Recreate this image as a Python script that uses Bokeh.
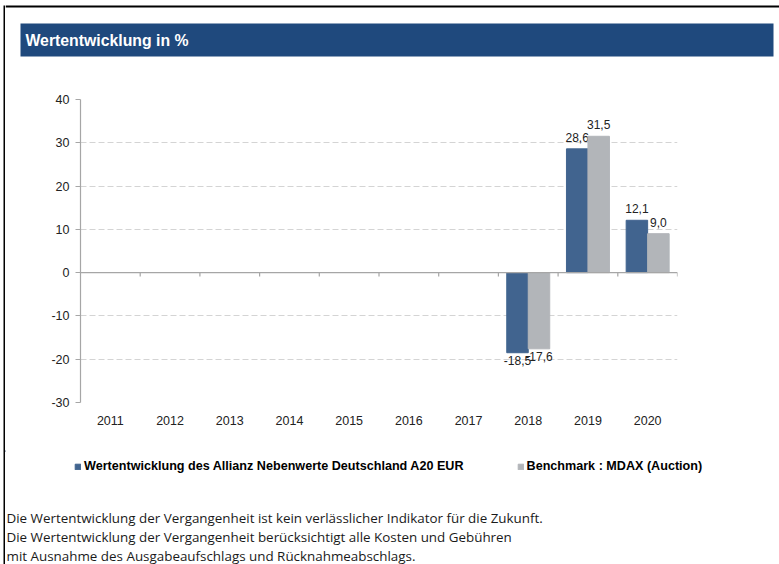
from bokeh.plotting import figure
from bokeh.layouts import row, column
from bokeh.models import (Range1d, FixedTicker, BoxAnnotation, Label, Span,
                          Legend, LegendItem, ColumnDataSource)
from bokeh.core.properties import value
from bokeh.embed import file_html
from bokeh.resources import INLINE

# ---- data ----
years = ["2011", "2012", "2013", "2014", "2015", "2016", "2017", "2018", "2019", "2020"]
fund = [None, None, None, None, None, None, None, -18.5, 28.6, 12.1]
bench = [None, None, None, None, None, None, None, -17.6, 31.5, 9.0]
y_ticks = [-30, -20, -10, 0, 10, 20, 30, 40]
title_text = "Wertentwicklung in %"
fund_name = "Wertentwicklung des Allianz Nebenwerte Deutschland A20 EUR"
bench_name = "Benchmark : MDAX (Auction)"
footer_lines = [
    "Die Wertentwicklung der Vergangenheit ist kein verlässlicher Indikator für die Zukunft.",
    "Die Wertentwicklung der Vergangenheit berücksichtigt alle Kosten und Gebühren",
    "mit Ausnahme des Ausgabeaufschlags und Rücknahmeabschlags.",
]

FONT = "Liberation Sans"
BLUE = "#41648F"
GRAY = "#B2B5B9"
AXIS = "#A6A6A6"
BAR_W = 0.36
TOTAL_W, TOTAL_H = 779, 564
STRIP_W = 5
W = TOTAL_W - STRIP_W


def blank(w, h):
    f = figure(width=w, height=h, output_backend="svg", toolbar_location=None,
               x_range=Range1d(0, w), y_range=Range1d(h, 0), min_border=0,
               x_axis_location=None, y_axis_location=None, frame_align=False)
    f.grid.visible = False
    f.outline_line_color = None
    f.background_fill_color = "white"
    f.border_fill_color = "white"
    return f


# ---- left border strip ----
strip = blank(STRIP_W, TOTAL_H)
strip.add_layout(BoxAnnotation(left=3, right=5, top=5, bottom=TOTAL_H,
                               fill_color="black", fill_alpha=1, line_color=None))

# ---- header ----
HEAD_H = 60
head = blank(W, HEAD_H)
head.add_layout(BoxAnnotation(left=0, right=W, top=5, bottom=7,
                              fill_color="black", fill_alpha=1, line_color=None))
head.add_layout(BoxAnnotation(left=15, right=768, top=23, bottom=56,
                              fill_color="#1F497D", fill_alpha=1, line_color=None))
head.add_layout(Label(x=20, y=40, text=title_text, text_font=FONT,
                      text_font_size="15.8px", text_font_style="bold",
                      text_color="white", text_baseline="middle"))

# ---- main chart ----
MAIN_H = 390
p = figure(width=W, height=MAIN_H, output_backend="svg", toolbar_location=None,
           x_range=Range1d(0, len(years)), y_range=Range1d(y_ticks[0], y_ticks[-1]),
           min_border_left=75, min_border_right=102, min_border_top=39, min_border_bottom=48,
           frame_align=False)
p.outline_line_color = None
p.background_fill_color = "white"
p.border_fill_color = "white"


def make_source(vals, offset, positive):
    xs, tops, texts = [], [], []
    for i, v in enumerate(vals):
        if v is None or (v >= 0) != positive:
            continue
        xs.append(i + 0.5 + offset)
        tops.append(v)
        texts.append(f"{v:.1f}".replace(".", ","))
    return ColumnDataSource(dict(x=xs, top=tops, text=texts))


for vals, offset, color in ((fund, -BAR_W / 2, BLUE), (bench, BAR_W / 2, GRAY)):
    for positive in (True, False):
        s = make_source(vals, offset, positive)
        p.vbar(x="x", top="top", bottom=0, width=BAR_W, source=s,
               fill_color=color, line_color=color)
        p.text(x="x", y="top", text="text", source=s, text_align="center",
               text_baseline="bottom" if positive else "top",
               y_offset=-7 if positive else 3,
               text_font=value(FONT), text_font_size="12px", text_color="#222222")

# zero line with small category ticks
p.add_layout(Span(location=0, dimension="width", line_color=AXIS, line_width=1.2))
bx = list(range(1, len(years) + 1))
p.segment(x0=bx, y0=[0] * len(bx), x1=bx, y1=[-0.9] * len(bx),
          line_color=AXIS, line_width=1.2)

# axes
p.xaxis.ticker = FixedTicker(ticks=[i + 0.5 for i in range(len(years))])
p.xaxis.major_label_overrides = {i + 0.5: y for i, y in enumerate(years)}
p.xaxis.axis_line_color = None
p.xaxis.major_tick_line_color = None
p.xaxis.minor_tick_line_color = None
p.xaxis.major_label_standoff = 7
p.xaxis.major_label_text_font = FONT
p.xaxis.major_label_text_font_size = "12.5px"
p.xaxis.major_label_text_color = "#222222"

p.yaxis.ticker = FixedTicker(ticks=y_ticks)
p.yaxis.major_label_overrides = {t: str(t) for t in y_ticks}
p.yaxis.axis_line_color = AXIS
p.yaxis.axis_line_width = 1.2
p.yaxis.major_tick_line_color = AXIS
p.yaxis.major_tick_out = 5
p.yaxis.major_tick_in = 0
p.yaxis.minor_tick_line_color = None
p.yaxis.major_label_standoff = 6
p.yaxis.major_label_text_font = FONT
p.yaxis.major_label_text_font_size = "12.5px"
p.yaxis.major_label_text_color = "#222222"

p.xgrid.grid_line_color = None
p.ygrid.grid_line_color = "#D4D4D4"
p.ygrid.grid_line_dash = "6 3"
p.ygrid.grid_line_width = 1.2

# ---- legend row ----
LEG_H = 40
leg = blank(W, LEG_H)
# legend swatch renderers (their single placeholder bar lies outside the visible range)
lf = leg.vbar(x=[-100], top=[1], width=1, fill_color=BLUE, line_color=BLUE)
lb = leg.vbar(x=[-100], top=[1], width=1, fill_color=GRAY, line_color=GRAY)
legend = Legend(items=[LegendItem(label=fund_name, renderers=[lf]),
                       LegendItem(label=bench_name, renderers=[lb])],
                orientation="horizontal", location=(69, LEG_H - 23),
                glyph_width=7, glyph_height=7, label_height=12, label_standoff=3,
                spacing=53, padding=0, margin=0,
                label_text_font=FONT, label_text_font_size="12.6px",
                label_text_font_style="bold", label_text_color="#000000",
                border_line_color=None, background_fill_alpha=0)
leg.add_layout(legend)

# ---- footer ----
FOOT_H = TOTAL_H - HEAD_H - MAIN_H - LEG_H
foot = blank(W, FOOT_H)
for i, line in enumerate(footer_lines):
    foot.add_layout(Label(x=1, y=27 + 19 * i, text=line,
                          text_font="Open Sans", text_font_size="13.4px",
                          text_color="#1a1a1a", text_baseline="alphabetic"))

layout = row(strip, column(head, p, leg, foot, spacing=0), spacing=0)
open("out.html", "w").write(file_html(layout, INLINE))
